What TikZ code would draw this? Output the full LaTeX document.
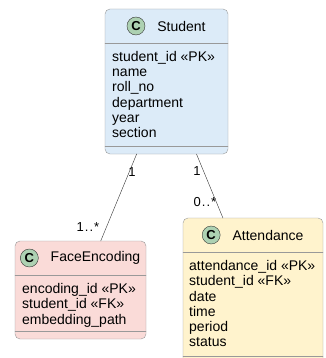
\documentclass[tikz,border=0pt]{standalone}
\usepackage{fontspec}
\setmainfont{Liberation Sans}
\usetikzlibrary{positioning}
\definecolor{stufill}{HTML}{DCEBF8}
\definecolor{facefill}{HTML}{FADBD8}
\definecolor{attfill}{HTML}{FFF3CD}
\definecolor{spotfill}{HTML}{ADD1B2}
\begin{document}
\begin{tikzpicture}[x=1pt,y=1pt,font=\fontsize{14}{16}\selectfont,line join=round,line cap=round,
 classbox/.style={draw=black!40,rounded corners=5pt,inner sep=0pt,outer sep=0pt,anchor=north west},
 spot/.style={circle,draw=black!80,fill=spotfill,minimum size=18pt,inner sep=0pt,font=\bfseries\fontsize{13}{13}\selectfont},
 title/.style={inner sep=0pt},
 attr/.style={anchor=base west,inner sep=0pt},
 mult/.style={inner sep=0pt,font=\fontsize{13}{13}\selectfont}]
 \useasboundingbox (0,0) rectangle (325,-358);
 \clip (0,0) rectangle (325,-358);
 % Student
 \node[classbox,fill=stufill,minimum width=123pt,minimum height=145pt] (stu) at (105,-9) {};
 \draw[black!40] ([yshift=-34pt]stu.north west)--([yshift=-34pt]stu.north east)
  ([yshift=8pt]stu.south west)--([yshift=8pt]stu.south east);
 \node[title] (stu-t) at ([xshift=15pt,yshift=-17pt]stu.north) {Student};
 \node[spot,left=12pt of stu-t] (stu-c) {C};
 \foreach\t[count=\i] in {student\_id «PK»,name,roll\_no,department,year,section}
  {\node[attr] (stu-a\i) at ([xshift=7pt,yshift={-52.5pt-(\i-1)*15.25pt}]stu.north west) {\t};}
 % FaceEncoding
 \node[classbox,fill=facefill,minimum width=131pt,minimum height=98pt] (face) at (15,-241) {};
 \draw[black!40] ([yshift=-34pt]face.north west)--([yshift=-34pt]face.north east)
  ([yshift=8pt]face.south west)--([yshift=8pt]face.south east);
 \node[title] (face-t) at ([xshift=15pt,yshift=-17pt]face.north) {FaceEncoding};
 \node[spot,left=12pt of face-t] (face-c) {C};
 \foreach\t[count=\i] in {encoding\_id «PK»,student\_id «FK»,embedding\_path}
  {\node[attr] (face-a\i) at ([xshift=7pt,yshift={-52.5pt-(\i-1)*15.25pt}]face.north west) {\t};}
 % Attendance
 \node[classbox,fill=attfill,minimum width=140pt,minimum height=146pt] (att) at (183,-218) {};
 \draw[black!40] ([yshift=-34pt]att.north west)--([yshift=-34pt]att.north east)
  ([yshift=8pt]att.south west)--([yshift=8pt]att.south east);
 \node[title] (att-t) at ([xshift=15pt,yshift=-17pt]att.north) {Attendance};
 \node[spot,left=12pt of att-t] (att-c) {C};
 \foreach\t[count=\i] in {attendance\_id «PK»,student\_id «FK»,date,time,period,status}
  {\node[attr] (att-a\i) at ([xshift=6pt,yshift={-52.5pt-(\i-1)*15.25pt}]att.north west) {\t};}
 % associations
 \draw[black!80] (stu)--(face) (stu)--(att);
 \node[mult] (stu-face-m1) at (132,-172) {1};
 \node[mult] (stu-face-m2) at (88,-227) {1\kern1pt.\kern1pt.\kern1pt*};
 \node[mult] (stu-att-m1) at (197,-171) {1};
 \node[mult] (stu-att-m2) at (205,-202) {0\kern1pt.\kern1pt.\kern1pt*};
\end{tikzpicture}
\end{document}
